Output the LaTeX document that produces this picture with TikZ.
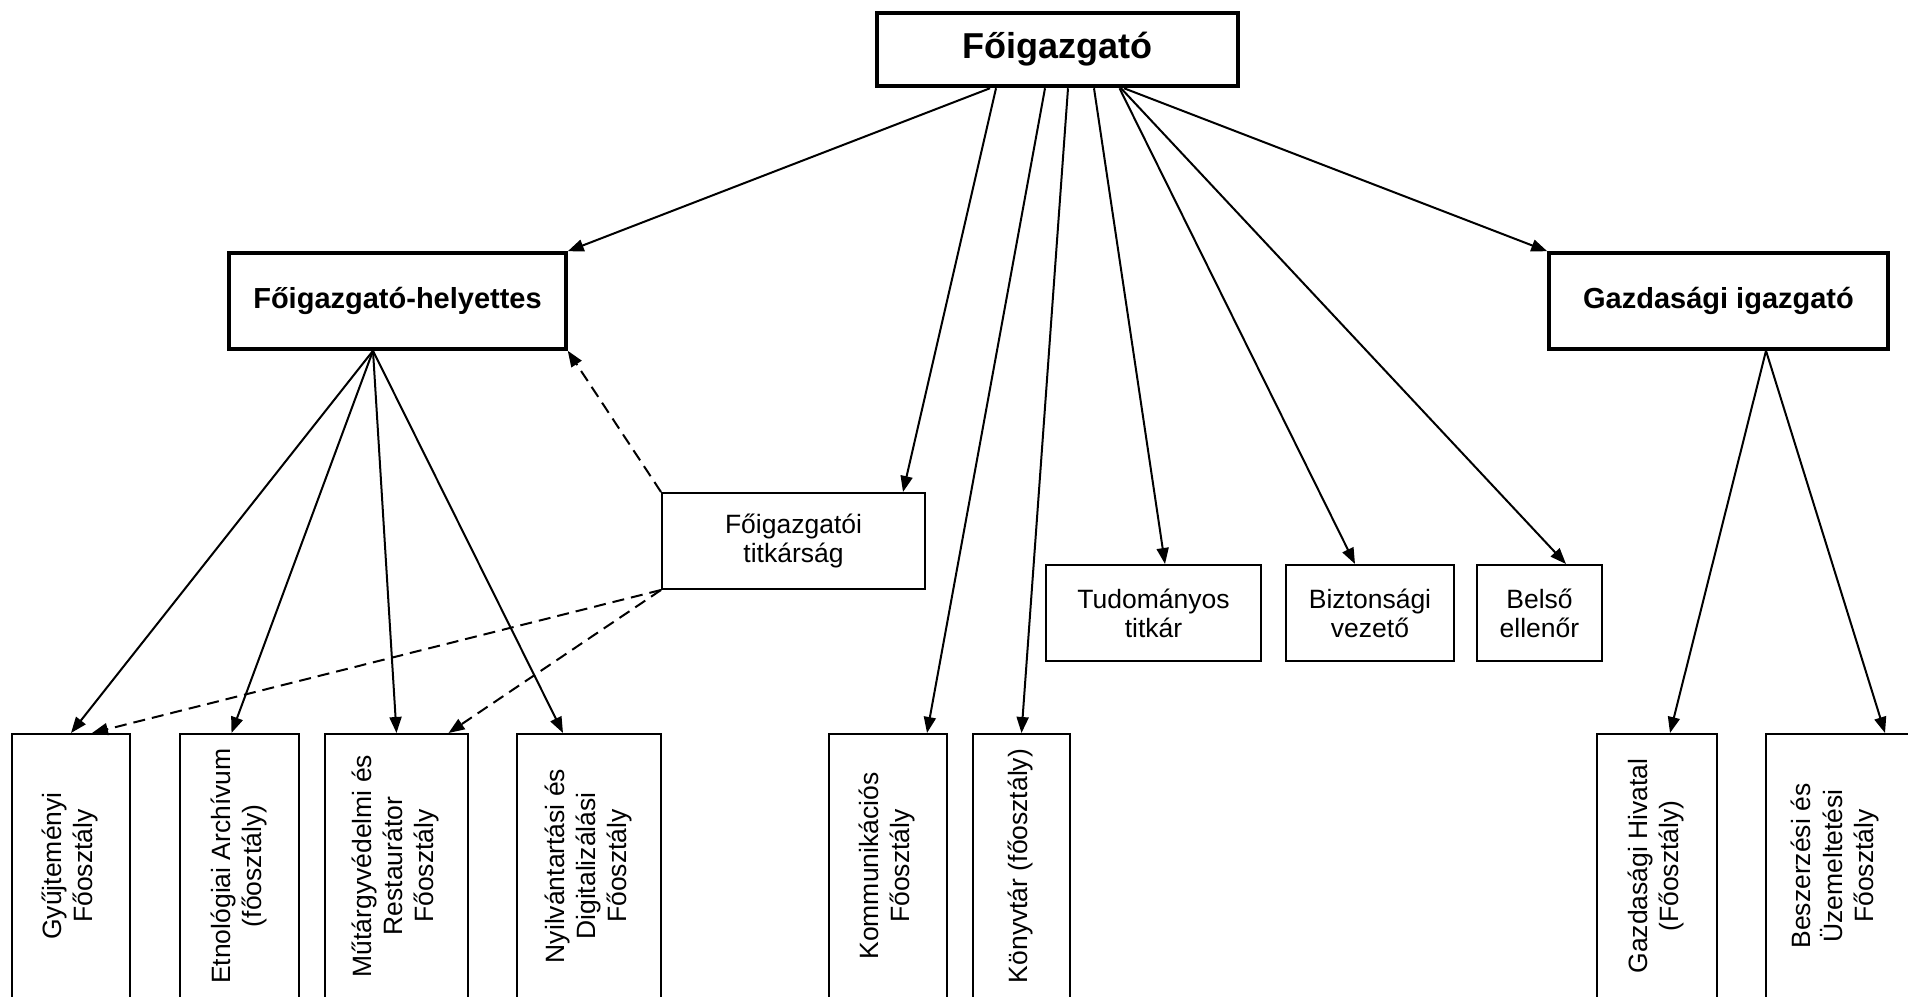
\documentclass[tikz,border=0pt]{standalone}
\usepackage{fontspec}
\setmainfont{Liberation Sans}
\usetikzlibrary{arrows.meta}

% rotated, centred lines for the tall unit boxes
\newcommand{\vtxt}[1]{\rotatebox{90}{\begin{tabular}{@{}c@{}}#1\end{tabular}}}

\begin{document}
\begin{tikzpicture}[x=1pt, y=-1pt,
    txt/.style={font=\fontsize{26.5}{29}\selectfont},
    vtx/.style={font=\fontsize{26.5}{31}\selectfont},
    lead/.style={draw, line width=3.5pt, inner sep=0pt, minimum height=96,
        font=\fontsize{29}{33}\selectfont\bfseries},
    staff/.style={draw, line width=2pt, inner sep=0pt, minimum height=96, align=center, txt},
    unit/.style={draw, line width=2pt, inner sep=0pt, minimum height=264, vtx},
    arr/.style={line width=2pt, -{Triangle[length=16pt, width=12pt]}},
    darr/.style={arr, dash pattern=on 12pt off 7pt}]
    \useasboundingbox (0,0) rectangle (1908,996);
    \clip (0,0) rectangle (1908,996);

    \node[draw, line width=4.5pt, inner sep=0pt, minimum width=361, minimum height=73,
        font=\fontsize{36}{40}\selectfont\bfseries] (chief) at (1057.5,49.5) {Főigazgató};

    \node[lead, minimum width=337] (deputy) at (397.5,301) {Főigazgató-helyettes};
    \node[lead, minimum width=339] (finance) at (1718.5,301) {Gazdasági igazgató};

    \node[staff, minimum width=263] (office) at (793.5,541) {Főigazgatói\\titkárság};
    \node[staff, minimum width=215] (science) at (1153.5,613) {Tudományos\\titkár};
    \node[staff, minimum width=168] (security) at (1370,613) {Biztonsági\\vezető};
    \node[staff, minimum width=125] (audit) at (1539.5,613) {Belső\\ellenőr};

    \node[unit, minimum width=118] (coll) at (71,866) {\vtxt{Gyűjteményi\\Főosztály}};
    \node[unit, minimum width=119] (ethno) at (239.5,866) {\vtxt{Etnológiai Archívum\\(főosztály)}};
    \node[unit, minimum width=143] (conserv) at (396.5,866) {\vtxt{Műtárgyvédelmi és\\Restaurátor\\Főosztály}};
    \node[unit, minimum width=144] (registry) at (589,866) {\vtxt{Nyilvántartási és\\Digitalizálási\\Főosztály}};
    \node[unit, minimum width=118] (comm) at (888,866) {\vtxt{Kommunikációs\\Főosztály}};
    \node[unit, minimum width=97] (library) at (1021.5,866) {\vtxt{Könyvtár (főosztály)}};
    \node[unit, minimum width=120] (finoffice) at (1657,866) {\vtxt{Gazdasági Hivatal\\(Főosztály)}};
    \node[unit, minimum width=164, label={[vtx, xshift=-12pt]center:\vtxt{Beszerzési és\\Üzemeltetési\\Főosztály}}]
        (procure) at (1848,866) {};

    % chief
    \draw[arr] ([xshift=-67.5]chief.south) -- (deputy.north east);
    \draw[arr] ([xshift=-61.5]chief.south) -- ([xshift=109.5]office.north);
    \draw[arr] ([xshift=-12.5]chief.south) -- ([xshift=39]comm.north);
    \draw[arr] ([xshift=10.5]chief.south) -- (library.north);
    \draw[arr] ([xshift=36.5]chief.south) -- ([xshift=11.5]science.north);
    \draw[arr] ([xshift=62]chief.south) -- ([xshift=-15]security.north);
    \draw[arr] ([xshift=63.5]chief.south) -- ([xshift=26.5]audit.north);
    \draw[arr] ([xshift=66.5]chief.south) -- (finance.north west);

    % deputy
    \draw[arr] ([xshift=-24.5]deputy.south) -- (coll.north);
    \draw[arr] ([xshift=-24.5]deputy.south) -- ([xshift=-8]ethno.north);
    \draw[arr] ([xshift=-24.5]deputy.south) -- (conserv.north);
    \draw[arr] ([xshift=-24.5]deputy.south) -- ([xshift=-26]registry.north);

    % office (dashed)
    \draw[darr] (office.north west) -- (deputy.south east);
    \draw[darr] (office.south west) -- ([xshift=21]coll.north);
    \draw[darr] (office.south west) -- ([xshift=52]conserv.north);

    % finance
    \draw[arr] ([xshift=47.5]finance.south) -- ([xshift=13]finoffice.north);
    \draw[arr] ([xshift=47.5]finance.south) -- ([xshift=37]procure.north);
\end{tikzpicture}
\end{document}
